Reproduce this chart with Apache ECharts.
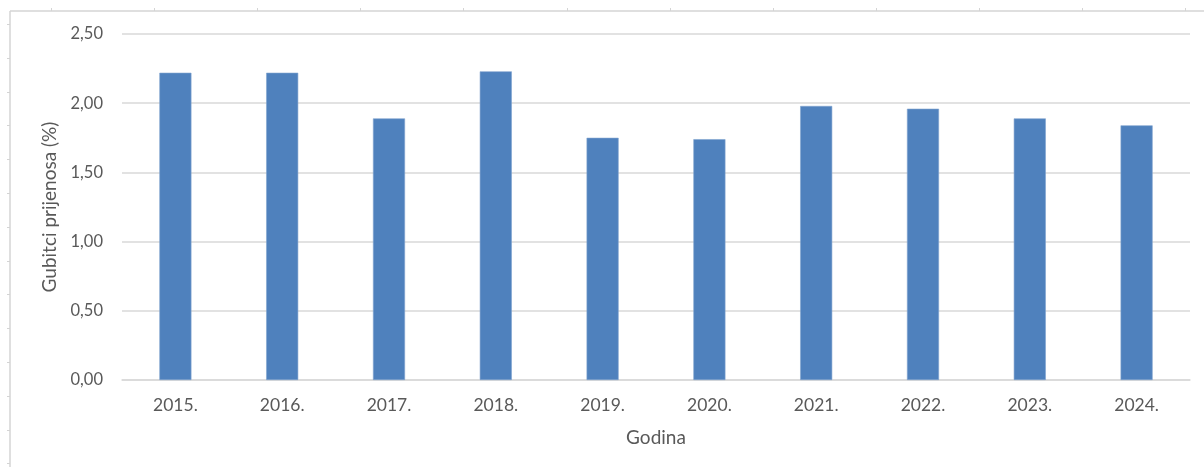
<!DOCTYPE html>
<html>
<head>
<meta charset="utf-8">
<script src="https://cdn.jsdelivr.net/npm/echarts@6/dist/echarts.min.js"></script>
<style>
  html, body { margin: 0; padding: 0; background: #ffffff; }
  #chart { width: 1204px; height: 467px; }
</style>
</head>
<body>
<div id="chart"></div>
<script>
// Godišnji gubici prijenosa
const years = ['2015.', '2016.', '2017.', '2018.', '2019.', '2020.', '2021.', '2022.', '2023.', '2024.'];
const losses = [2.22, 2.22, 1.89, 2.23, 1.75, 1.74, 1.98, 1.96, 1.89, 1.84];
const yAxisTitle = 'Gubitci prijenosa (%)';
const xAxisTitle = 'Godina';

const textColor = '#595959';
const gridColor = '#D9D9D9';
const fontFamily = 'Lato, "Open Sans", sans-serif';

// light frame with small ruler ticks along the top and left edges
const frame = [];
const frameStyle = { stroke: '#D4D4D4', lineWidth: 1.5 };
frame.push({ type: 'line', shape: { x1: 10, y1: 11, x2: 1204, y2: 11 }, style: frameStyle, silent: true });
frame.push({ type: 'line', shape: { x1: 10, y1: 11, x2: 10, y2: 467 }, style: frameStyle, silent: true });
for (let x = 51; x < 1204; x += 103.1) {
  frame.push({ type: 'line', shape: { x1: Math.round(x) + 0.5, y1: 8, x2: Math.round(x) + 0.5, y2: 11 }, style: { stroke: '#D4D4D4', lineWidth: 1 }, silent: true });
}
for (let y = 24; y < 467; y += 33.8) {
  frame.push({ type: 'line', shape: { x1: 7, y1: Math.round(y) + 0.5, x2: 10, y2: Math.round(y) + 0.5 }, style: { stroke: '#D4D4D4', lineWidth: 1 }, silent: true });
}

const chart = echarts.init(document.getElementById('chart'), null, { renderer: 'canvas' });
chart.setOption({
  animation: false,
  backgroundColor: '#ffffff',
  textStyle: { fontFamily: fontFamily },
  graphic: frame,
  grid: { left: 122, right: 14, top: 34, bottom: 87, containLabel: false },
  xAxis: {
    type: 'category',
    data: years,
    name: xAxisTitle,
    nameLocation: 'middle',
    nameGap: 48,
    nameTextStyle: { color: textColor, fontSize: 19, fontFamily: fontFamily },
    axisLine: { show: true, lineStyle: { color: gridColor, width: 1.5 } },
    axisTick: { show: false },
    axisLabel: { color: textColor, fontSize: 17.5, margin: 16, fontFamily: fontFamily }
  },
  yAxis: {
    type: 'value',
    min: 0,
    max: 2.5,
    interval: 0.5,
    name: yAxisTitle,
    nameLocation: 'middle',
    nameRotate: 90,
    nameGap: 55,
    nameTextStyle: { color: textColor, fontSize: 19, fontFamily: fontFamily },
    axisLine: { show: false },
    axisTick: { show: false },
    splitLine: { show: true, lineStyle: { color: gridColor, width: 1.5 } },
    axisLabel: {
      color: textColor,
      fontSize: 16.5,
      margin: 19,
      fontFamily: fontFamily,
      formatter: v => v.toFixed(2).replace('.', ',')
    }
  },
  series: [{
    type: 'bar',
    data: losses,
    barWidth: '30%',
    itemStyle: { color: '#4F81BD', borderColor: '#7FA3CF', borderWidth: 0.6 }
  }]
});
</script>
</body>
</html>
